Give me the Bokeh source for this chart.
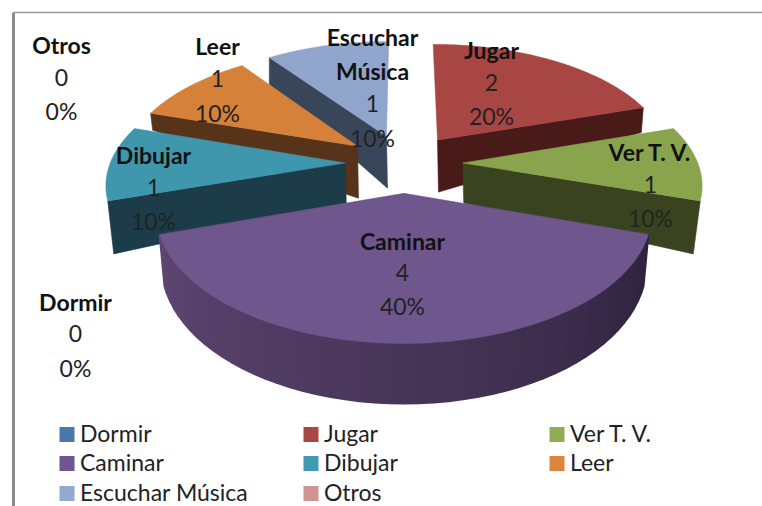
import math
from bokeh.plotting import figure
from bokeh.models import Range1d
from bokeh.core.properties import value
from bokeh.embed import file_html
from bokeh.resources import INLINE

categories = ["Dormir", "Jugar", "Ver T. V.", "Caminar", "Dibujar", "Leer", "Escuchar Música", "Otros"]
values = [0, 2, 1, 4, 1, 1, 1, 0]
legend_colors = ["#4a78ad", "#a84644", "#8ead55", "#6f5592", "#3f9ab2", "#dd853f", "#93a9d1", "#d09593"]
top_colors = ["#4a78ad", "#a84644", "#89a44c", "#6f568c", "#3f97ae", "#d6813a", "#8fa5cc", "#d09593"]
wall_colors = ["#2a4566", "#481a18", "#3a431f", "#463455", "#1b3c48", "#57331a", "#39465a", "#7a5554"]

FONT = "Lato"
W, H = 762, 506
p = figure(width=W, height=H, output_backend="svg", toolbar_location=None,
           x_range=Range1d(0, W), y_range=Range1d(H, 0),
           min_border=0, outline_line_color=None)
p.xaxis.visible = False
p.yaxis.visible = False
p.grid.visible = False
p.background_fill_color = "white"

# chart frame
p.line([13, 13], [12, 506], line_color="#8c8c8c", line_width=3)
p.line([13, 762], [12, 12], line_color="#9a9a9a", line_width=1.5)

# projection of the tilted pie
CX, CY, RX, RY, K, EXPLODE = 403.5, 162.5, 235.0, 116.8, 0.153, 0.25


def project(mid, t):
    X = EXPLODE * math.sin(mid) + math.sin(t)
    Y = -EXPLODE * math.cos(mid) - math.cos(t)
    d = 1 - K * Y
    return CX + RX * X / d, CY + RY * Y / d


def apex(mid):
    X = EXPLODE * math.sin(mid)
    Y = -EXPLODE * math.cos(mid)
    d = 1 - K * Y
    return CX + RX * X / d, CY + RY * Y / d


total = sum(values)
slices = {}
acc = 0
for i, v in enumerate(values):
    a0 = 2 * math.pi * acc / total
    a1 = 2 * math.pi * (acc + v) / total
    acc += v
    slices[categories[i]] = (i, a0, a1, (a0 + a1) / 2)

# wall of a straight edge: which end, depth at centre, depth at rim, rim inset
edge_walls = {
    "Jugar": ("end", 52, 25, -2),
    "Ver T. V.": ("end", 40, 53, -7),
    "Dibujar": ("start", 40, 53, 6),
    "Leer": ("start", 52, 17, 2),
    "Escuchar Música": ("start", 52, 27, 0),
}
order = ["Escuchar Música", "Jugar", "Leer", "Ver T. V.", "Dibujar", "Caminar"]


def add_poly(xs, ys, color, lw=0.6):
    p.patch(xs, ys, fill_color=color, line_color=color, line_width=lw)


for name in order:
    i, a0, a1, mid = slices[name]
    ax, ay = apex(mid)
    if name in edge_walls:
        which, d_c, d_r, inset = edge_walls[name]
        rx, ry = project(mid, a1 if which == "end" else a0)
        add_poly([ax, rx, rx + inset, ax + 1], [ay, ry, ry + d_r, ay + d_c], wall_colors[i])
    else:
        n = 48
        left = (0x5e, 0x46, 0x72)
        mid_c = (0x48, 0x36, 0x59)
        right = (0x2e, 0x24, 0x3e)
        for j in range(n):
            t0 = a0 + (a1 - a0) * j / n
            t1 = a0 + (a1 - a0) * (j + 1) / n
            x0, y0 = project(mid, t0)
            x1, y1 = project(mid, t1)
            f = 0.98
            d0 = 48 + 12 * (-math.cos(t0))
            d1 = 48 + 12 * (-math.cos(t1))
            u = j / (n - 1)  # 0 = right rim, 1 = left rim
            if u < 0.5:
                c = [right[k] + (mid_c[k] - right[k]) * u * 2 for k in range(3)]
            else:
                c = [mid_c[k] + (left[k] - mid_c[k]) * (u - 0.5) * 2 for k in range(3)]
            col = "#%02x%02x%02x" % tuple(int(q) for q in c)
            add_poly([x0, x1, ax + (x1 - ax) * f, ax + (x0 - ax) * f],
                     [y0, y1, y1 + d1, y0 + d0], col, lw=2)
    # top face
    n = 60
    pts = [project(mid, a0 + (a1 - a0) * j / n) for j in range(n + 1)]
    xs = [ax] + [q[0] for q in pts]
    ys = [ay] + [q[1] for q in pts]
    p.patch(xs, ys, fill_color=top_colors[i], line_color=top_colors[i], line_width=0.5)

# data labels
label_pos = {
    "Otros": (61, [46, 79, 112]),
    "Leer": (217, [47, 80, 114]),
    "Escuchar Música": (372, [38, 72, 105, 139]),
    "Jugar": (491, [51, 84, 117]),
    "Ver T. V.": (650, [153, 186, 219]),
    "Dibujar": (153, [156, 189, 222]),
    "Caminar": (402, [242, 274, 307]),
    "Dormir": (75, [303, 335, 369]),
}
bx, by, bt, rx_, ry_, rt = [], [], [], [], [], []
for i, name in enumerate(categories):
    x, ys = label_pos[name]
    parts = name.split(" ") if name == "Escuchar Música" else [name]
    for part, y in zip(parts, ys):
        bx.append(x); by.append(y); bt.append(part)
    rest = [str(values[i]), f"{values[i] / total:.0%}"]
    for txt, y in zip(rest, ys[len(parts):]):
        rx_.append(x); ry_.append(y); rt.append(txt)

p.text(bx, by, text=bt, text_font=value(FONT), text_font_style="bold", text_font_size="23px",
       text_align="center", text_baseline="middle", text_color="#111111", y_offset=-2)
p.text(rx_, ry_, text=rt, text_font=value(FONT), text_font_size="23px",
       text_align="center", text_baseline="middle", text_color="#222222", y_offset=-2)

# legend
col_x = [59, 303, 549]
row_y = [434, 463, 493]
lx, ly, lt = [], [], []
sx, sy, sc = [], [], []
for i, name in enumerate(categories):
    c = i % 3
    r = i // 3
    sx.append(col_x[c] + 7.5); sy.append(row_y[r]); sc.append(legend_colors[i])
    lx.append(col_x[c] + 20.5); ly.append(row_y[r]); lt.append(name)
p.rect(sx, sy, width=15, height=15, fill_color=sc, line_color=None)
p.text(lx, ly, text=lt, text_font=value(FONT), text_font_size="23px",
       text_align="left", text_baseline="middle", text_color="#222222", y_offset=-2)

open("out.html", "w").write(file_html(p, INLINE))
